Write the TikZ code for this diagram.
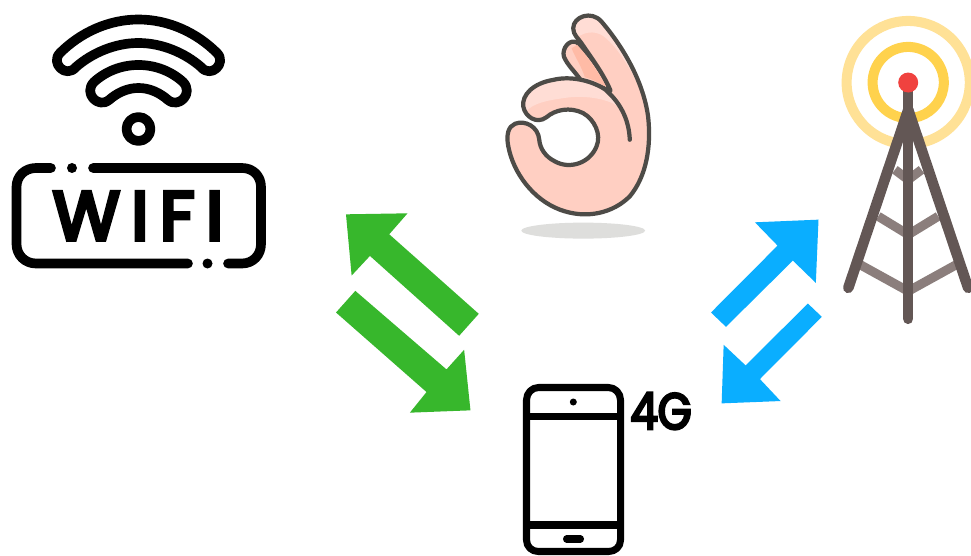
\documentclass[tikz,border=0pt]{standalone}
\usepackage{fontspec}
\newfontfamily\iconfont[LetterSpace=17,FakeBold=6]{Poppins}
\newfontfamily\gfont[FakeStretch=0.85,FakeBold=5]{Poppins}
\definecolor{greenarrow}{HTML}{37B72C}
\definecolor{bluearrow}{HTML}{0AAEFF}
\definecolor{handskin}{HTML}{FFCFC2}
\definecolor{handlight}{HTML}{FFDDD5}
\definecolor{handdark}{HTML}{FFBBA6}
\definecolor{handline}{HTML}{4D4B47}
\definecolor{shadowgrey}{HTML}{DEDEDC}
\definecolor{ringouter}{HTML}{FFE196}
\definecolor{ringinner}{HTML}{FFD24D}
\definecolor{towerdark}{HTML}{635755}
\definecolor{towerbar}{HTML}{8B7E7C}
\definecolor{reddot}{HTML}{F0423F}
\tikzset{
  x=0.01cm,y=-0.01cm,
  iconline/.style={draw=black,line width=2.75pt,line cap=round,line join=round},
  handoutline/.style={draw=handline,line width=1.2pt,line cap=round,line join=round},
  towerleg/.style={draw=towerdark,line width=3pt,line cap=round},
  towerrung/.style={draw=towerbar,line width=2.6pt,line join=miter},
  zoomhand/.style={shift={(490,0)},x=0.003333cm,y=-0.003333cm},
  zoomtower/.style={shift={(820,0)},x=0.003333cm,y=-0.003333cm},
  zoomgreen/.style={shift={(330,205)},x=0.003333cm,y=-0.003333cm},
  zoomblue/.style={shift={(705,215)},x=0.003333cm,y=-0.003333cm},
}
\def\handpath{(420,420) .. controls (418,370) and (400,315) .. (345,268)
  .. controls (300,240) and (240,228) .. (190,240)
  .. controls (130,250) and (95,285) .. (100,320)
  .. controls (105,350) and (140,375) .. (170,352)
  .. controls (195,330) and (240,320) .. (280,340)
  .. controls (315,360) and (335,405) .. (320,440)
  .. controls (300,490) and (240,510) .. (195,485)
  .. controls (165,470) and (150,445) .. (148,420)
  .. controls (145,380) and (105,360) .. (75,372)
  .. controls (55,380) and (48,405) .. (55,440)
  .. controls (70,520) and (130,600) .. (210,630)
  .. controls (290,660) and (370,640) .. (420,590)
  .. controls (470,530) and (485,440) .. (475,350)
  .. controls (460,240) and (395,135) .. (335,65)
  .. controls (305,30) and (250,50) .. (250,85)
  .. controls (250,105) and (265,115) .. (275,130)
  .. controls (305,175) and (340,220) .. (362,272)}
\begin{document}
\begin{tikzpicture}
\useasboundingbox (0,0) rectangle (971,555);
\fill[white] (0,0) rectangle (971,555);
\clip (0,0) rectangle (971,555);

% WiFi waves
\path[iconline] (60,53) .. controls (80,33) and (108,19.5) .. (138.5,19.5)
  .. controls (169,19.5) and (197,33) .. (217,53)
  .. controls (227,63) and (211,79) .. (201,67)
  .. controls (185,53) and (162,43) .. (138.5,43)
  .. controls (115,43) and (92,53) .. (76,67)
  .. controls (66,79) and (50,63) .. (60,53) -- cycle;
\path[iconline] (94,82) .. controls (106,71) and (122,65) .. (138.5,65)
  .. controls (155,65) and (171,71) .. (183,82)
  .. controls (194,93) and (179,109) .. (168,100)
  .. controls (160,93) and (150,88) .. (138.5,88)
  .. controls (127,88) and (117,93) .. (109,100)
  .. controls (98,109) and (83,93) .. (94,82) -- cycle;
\path[iconline] (138.5,129) circle (12);

% WiFi frame
\path[iconline] (51,168) -- (36,168) .. controls (25,168) and (16.5,176) .. (16.5,187)
  -- (16.5,244) .. controls (16.5,255) and (25,263.5) .. (36,263.5) -- (188,263.5);
\path[iconline] (93,168) -- (242,168) .. controls (253,168) and (261,176) .. (261,187)
  -- (261,244) .. controls (261,255) and (253,263.5) .. (242,263.5) -- (228,263.5);
\fill (72,168) circle (5);
\fill (207.5,263.5) circle (5);
\node[font=\iconfont\fontsize{19.5}{19.5}\selectfont,text=black,inner sep=0pt,anchor=center] (wifitext) at (138,216) {WIFI};

% OK hand
\begin{scope}[zoomhand]
  \draw[handoutline,fill=handskin] (262,128) .. controls (240,115) and (215,145) .. (222,170)
    .. controls (232,195) and (255,215) .. (272,240) -- (362,272)
    .. controls (340,220) and (305,170) .. (262,128) -- cycle;
  \fill[handdark] (262,135) .. controls (290,165) and (325,215) .. (350,262)
    .. controls (320,245) and (300,235) .. (285,232)
    .. controls (275,200) and (255,170) .. (245,145) -- cycle;
  \fill[handskin] \handpath;
  \fill[handlight] (252,100) .. controls (245,50) and (305,35) .. (335,65)
    .. controls (385,122) and (435,200) .. (455,280)
    .. controls (425,205) and (375,130) .. (335,105)
    .. controls (310,92) and (285,98) .. (268,108) -- cycle;
  \fill[handlight] (102,320) .. controls (105,285) and (130,255) .. (190,242)
    .. controls (240,232) and (300,242) .. (345,270)
    .. controls (360,285) and (375,300) .. (385,320)
    .. controls (350,295) and (280,285) .. (220,295)
    .. controls (170,302) and (130,310) .. (108,335) -- cycle;
  \draw[handoutline] \handpath;
  \fill[shadowgrey] (280,693) ellipse (186 and 24);
\end{scope}

% Tower
\begin{scope}[zoomtower]
  \draw[ringouter,line width=2.85pt] (265,248) ++(104:185) arc[start angle=104,end angle=436,radius=185];
  \draw[ringinner,line width=2.85pt] (265,248) ++(100:107) arc[start angle=100,end angle=440,radius=107];
  \draw[towerrung] (120,795) -- (265,875) -- (410,795);
  \draw[towerrung] (175,650) -- (265,705) -- (355,650);
  \draw[towerrung] (225,510) -- (265,540) -- (305,510);
  \draw[towerleg] (265,330) -- (85,865);
  \draw[towerleg] (265,330) -- (445,865);
  \draw[towerleg] (265,250) -- (265,958);
  \fill[reddot] (265,248) circle (30);
\end{scope}

% Phone
\path[iconline,line width=2pt] (538.5,387.5) -- (608.5,387.5)
  .. controls (615,387.5) and (620.5,393) .. (620.5,400) -- (620.5,540)
  .. controls (620.5,547) and (615,551.5) .. (608.5,551.5) -- (538.5,551.5)
  .. controls (532,551.5) and (526.5,547) .. (526.5,540) -- (526.5,400)
  .. controls (526.5,393) and (532,387.5) .. (538.5,387.5) -- cycle;
\path[iconline,line width=2pt,line cap=butt] (526.5,416.5) -- (620.5,416.5);
\path[iconline,line width=2pt,line cap=butt] (526.5,525) -- (620.5,525);
\fill (573.3,402) circle (3.5);
\path[iconline,line width=2pt] (566.5,539) -- (580.5,539);
\node[font=\gfont\fontsize{14.5}{14.5}\selectfont,text=black,inner sep=0pt,anchor=center] (fourg) at (661,411) {4G};

% Green arrows
\begin{scope}[zoomgreen]
  \fill[greenarrow] (48,28) -- (233,25) -- (178,88) -- (447,327) -- (388,393) -- (120,153) -- (65,212) -- cycle;
  \fill[greenarrow] (18,323) -- (76,258) -- (350,494) -- (403,435) -- (422,617) -- (240,624) -- (290,562) -- cycle;
\end{scope}

% Blue arrows
\begin{scope}[zoomblue]
  \fill[bluearrow] (18,293) -- (218,92) -- (150,22) -- (341,14) -- (333,204) -- (264,137) -- (63,336) -- cycle;
  \fill[bluearrow] (351,306) -- (165,493) -- (227,559) -- (50,566) -- (56,390) -- (122,452) -- (309,266) -- cycle;
\end{scope}
\end{tikzpicture}
\end{document}
